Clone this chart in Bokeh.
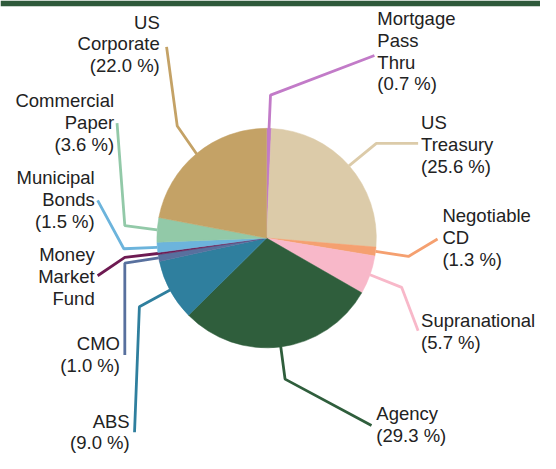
import math
from bokeh.plotting import figure
from bokeh.models import Range1d, ColumnDataSource, BoxAnnotation
from bokeh.embed import file_html
from bokeh.resources import INLINE
from bokeh.core.properties import value

# ---------------- data ----------------
categories = ["Mortgage Pass Thru", "US Treasury", "Negotiable CD", "Supranational",
              "Agency", "ABS", "CMO", "Money Market Fund", "Municipal Bonds",
              "Commercial Paper", "US Corporate"]
values = [0.7, 25.6, 1.3, 5.7, 29.3, 9.0, 1.0, 0.3, 1.5, 3.6, 22.0]
label_names = ["Mortgage\nPass\nThru", "US\nTreasury", "Negotiable\nCD", "Supranational",
               "Agency", "ABS", "CMO", "Money\nMarket\nFund", "Municipal\nBonds",
               "Commercial\nPaper", "US\nCorporate"]
show_pct = [True, True, True, True, True, True, True, False, True, True, True]
colors = ["#c27bc8", "#dccba9", "#f5a070", "#f8b8c9", "#2f5e3c", "#2f7f9e",
          "#58709e", "#6e1a52", "#6cb4dc", "#92c9a8", "#c4a266"]

# ---------------- layout (reference pixel frame, y downward) ----------------
W, H = 556, 469
CX, CY, R = 274, 246, 113
elbows = [(278, 98), (387, 148), (420, 265), (413, 297), (293, 392), (143, 317),
          (128, 272), (128, 266), (127, 257), (128, 233), (182, 130)]
ends = [(385, 57), (430, 148), (450, 247), (430, 342), (382, 440), (138, 447),
        (128, 367), (100, 285), (100, 207), (120, 127), (171, 48)]
label_pos = [(388, 52.5, "left"), (433, 149, "left"), (455, 245.7, "left"),
             (433, 342.5, "left"), (387, 439, "left"), (133, 446.7, "right"),
             (123, 366.7, "right"), (97, 286, "right"), (97, 206, "right"),
             (117, 126, "right"), (164, 45, "right")]

total = sum(values)
starts, stops, mids = [], [], []
cum = 0.0
for v in values:
    a0 = math.pi / 2 - 2 * math.pi * cum / total
    cum += v
    a1 = math.pi / 2 - 2 * math.pi * cum / total
    starts.append(a0)
    stops.append(a1)
    mids.append((a0 + a1) / 2)

texts = [n + (f"\n({v:.1f} %)" if s else "") for n, v, s in zip(label_names, values, show_pct)]

p = figure(width=540, height=453, x_range=Range1d(0, W), y_range=Range1d(0, H),
           output_backend="svg", toolbar_location=None, min_border=0)
p.axis.visible = False
p.grid.visible = False
p.outline_line_color = None
p.background_fill_color = "white"

# leader lines
xs, ys = [], []
for m, (ex, ey), (lx, ly) in zip(mids, elbows, ends):
    sx = CX + R * math.cos(m)
    sy = (H - CY) + R * math.sin(m)
    xs.append([sx, ex, lx])
    ys.append([sy, H - ey, H - ly])
p.multi_line(xs=xs, ys=ys, line_color=colors, line_width=2.8)

src = ColumnDataSource(dict(start=starts, end=stops, color=colors, cat=categories))
p.wedge(x=CX, y=H - CY, radius=R, start_angle="start", end_angle="end",
        direction="clock", fill_color="color", line_color="color", line_width=0.5,
        source=src)

for align in ("left", "right"):
    idx = [i for i, lp in enumerate(label_pos) if lp[2] == align]
    p.text(x=[label_pos[i][0] for i in idx], y=[H - label_pos[i][1] for i in idx],
           text=[texts[i] for i in idx], text_align=align, text_baseline="middle",
           text_font=value("Liberation Sans"), text_font_size="18.5px",
           text_color="#222222", text_line_height=1.04)

p.add_layout(BoxAnnotation(left=0, right=W, bottom=H - 6, top=H,
                           fill_color="#2f5a3b", fill_alpha=1, line_color=None))

open("out.html", "w").write(file_html(p, INLINE))
